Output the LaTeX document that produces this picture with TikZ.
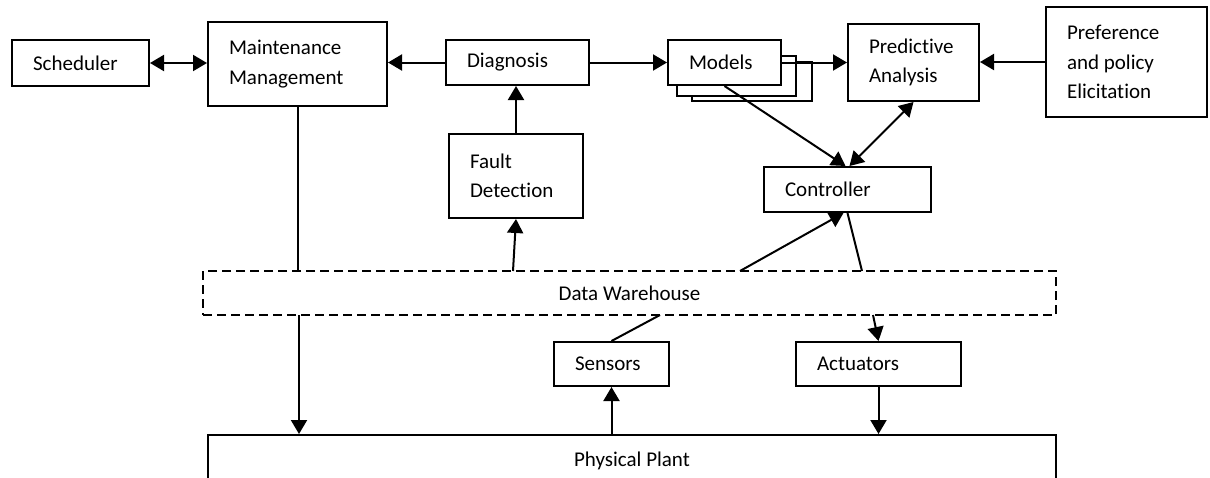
\documentclass[tikz,border=0pt]{standalone}
\usepackage{fontspec}
\setmainfont{Carlito}[Ligatures=NoCommon]
\usetikzlibrary{arrows.meta, positioning}
\tikzset{
  blk/.style={
    draw,
    line width=1pt,
    fill=white,
    align=flush left,
    inner xsep=10.5pt,
    inner ysep=0pt,
    font=\fontsize{10.5}{14.75}\selectfont
  },
  store/.style={
    draw,
    line width=1pt,
    dash pattern=on 4.5pt off 2.5pt,
    inner sep=0pt,
    font=\fontsize{10.5}{14.75}\selectfont
  },
  link/.style={
    -{Triangle[length=7pt,width=8pt]},
    line width=1pt
  },
  twoway/.style={
    {Triangle[length=7pt,width=8pt]}-{Triangle[length=7pt,width=8pt]},
    line width=1pt
  },
  wire/.style={
    -,
    line width=1pt
  }
}

\begin{document}
\begin{tikzpicture}[x=0.5pt, y=-0.5pt]
    \useasboundingbox (0,0) rectangle (1210,477);

    % top row
    \node[blk, text width=47.5pt, minimum height=23pt] (sched) at (80.5,63) {Scheduler};
    \node[blk, text width=68.5pt, minimum height=42pt] (maint) at (297.5,64) {Maintenance\\Management};
    \node[blk, text width=50.5pt, minimum height=22.5pt] (diag) at (517.5,62.5) {Diagnosis};

    % stack of models
    \draw[line width=1pt, fill=white] (692,62) rectangle (812,101);
    \draw[line width=1pt, fill=white] (677,56) rectangle (796,96);
    \node[blk, text width=35.5pt, minimum height=22.5pt] (models) at (724.5,62.5) {Models};

    \node[blk, text width=44.5pt, minimum height=38.5pt] (pred) at (913.5,62.5) {Predictive\\Analysis};
    \node[blk, text width=59.5pt, minimum height=55pt] (pref) at (1126.5,62) {Preference\\and policy\\Elicitation};

    % middle row
    \node[blk, text width=46pt, minimum height=42pt] (fault) at (516,176) {Fault\\Detection};
    \node[blk, text width=62.5pt, minimum height=22.5pt] (ctrl) at (847.5,189.5) {Controller};

    % data warehouse (dashed)
    \node[store, minimum width=426.5pt, minimum height=22pt] (dw) at (629.5,293) {Data Warehouse};

    % bottom row
    \node[blk, text width=36.5pt, minimum height=22pt] (sens) at (611.5,364) {Sensors};
    \node[blk, text width=61.5pt, minimum height=22pt] (act) at (878.5,364) {Actuators};
    \node[blk, align=center, minimum width=424pt, minimum height=26pt] (plant) at (632,461) {Physical Plant};

    % points on the warehouse edges
    \coordinate (dwFault) at (513,271);
    \coordinate (dwCtrlIn) at (740,271);
    \coordinate (dwCtrlOut) at (862,271);
    \coordinate (dwPlant) at (299,315);
    \coordinate (dwSens) at (660,315);
    \coordinate (dwAct) at (873,315);

    % connectors, top row
    \draw[twoway] (sched.east) -- (sched.east -| maint.west);
    \draw[link] (diag.west) -- (diag.west -| maint.east);
    \draw[link] (diag.east) -- (models.west);
    \draw[link] (models.east) -- (models.east -| pred.west);
    \draw[link] (pref.west) -- (pref.west -| pred.east);

    % connectors, middle
    \draw[link] (fault.north) -- (fault.north |- diag.south);
    \draw[link] (dwFault) -- (fault.south);
    \draw[wire] (maint.south) -- (maint.south |- dw.north);
    \draw[link] (models.south) -- ([xshift=-1pt]ctrl.north);
    \draw[twoway] (pred.south) -- ([xshift=1pt]ctrl.north);
    \draw[link] (dwCtrlIn) -- ([xshift=-2pt]ctrl.south);
    \draw[wire] (ctrl.south) -- (dwCtrlOut);

    % connectors, bottom
    \draw[link] (dwPlant) -- (dwPlant |- plant.north);
    \draw[wire] (sens.north) -- (dwSens);
    \draw[link] (sens.south |- plant.north) -- (sens.south);
    \draw[link] (dwAct) -- (act.north);
    \draw[link] (act.south) -- (act.south |- plant.north);

  \end{tikzpicture}
\end{document}
